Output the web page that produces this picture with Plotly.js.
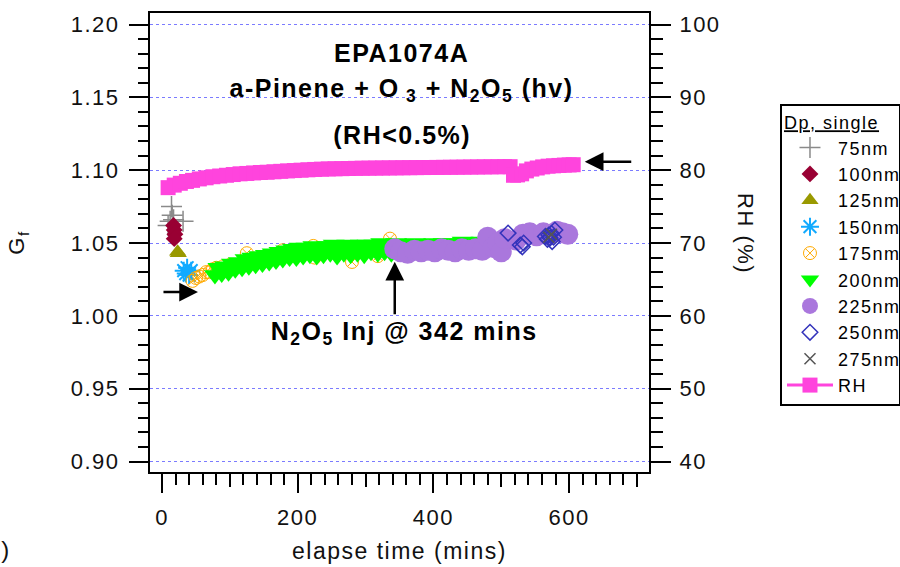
<!DOCTYPE html>
<html><head><meta charset="utf-8">
<script src="https://cdn.plot.ly/plotly-3.0.1.min.js"></script>
<style>
html,body{margin:0;padding:0;background:#fff}
#chart text{letter-spacing:1.5px}
</style>
</head><body><div id="chart" style="width:900px;height:567px"></div>
<script>
// ---- data ----
const seriesNames = ["75nm","100nm","125nm","150nm","175nm","200nm","225nm","250nm","275nm"];

const t75  = [9, 12, 14, 15, 31, 17];
const g75  = [1.062, 1.065, 1.075, 1.069, 1.065, 1.066];

const t100 = [17, 18, 19, 18];
const g100 = [1.062, 1.059, 1.056, 1.053];

const t125 = [24, 23];
const g125 = [1.043, 1.044];

const t150 = [32, 35, 37, 40, 43];
const g150 = [1.031, 1.029, 1.033, 1.028, 1.031];

const t175 = [45, 50, 55, 60, 65, 70, 75, 80, 90, 100, 125, 178, 223, 225, 280, 318, 336];
const g175 = [1.024, 1.026, 1.027, 1.028, 1.030, 1.030, 1.032, 1.033, 1.034, 1.035, 1.043, 1.045, 1.048, 1.040, 1.037, 1.041, 1.053];

const t200 = [78, 83, 88, 93, 98, 103, 108, 113, 118, 123, 128, 133, 138, 143, 148, 153, 158, 163, 168, 173, 178, 183, 188, 193, 198, 203, 208, 213, 218, 223, 228, 233, 238, 243, 248, 253, 258, 263, 268, 273, 278, 283, 288, 293, 298, 303, 308, 313, 318, 323, 328, 333, 338, 345, 352, 359, 366, 373, 380, 387, 394, 401, 408, 415, 422, 429, 436, 443, 450, 457, 464, 471, 478, 485, 492, 499, 505, 511];
const g200 = [1.028, 1.033, 1.029, 1.034, 1.030, 1.036, 1.032, 1.037, 1.033, 1.039, 1.034, 1.040, 1.035, 1.041, 1.036, 1.042, 1.037, 1.043, 1.038, 1.044, 1.039, 1.045, 1.040, 1.046, 1.040, 1.047, 1.041, 1.047, 1.042, 1.048, 1.041, 1.047, 1.042, 1.048, 1.043, 1.049, 1.041, 1.048, 1.043, 1.049, 1.042, 1.048, 1.043, 1.049, 1.042, 1.049, 1.044, 1.049, 1.043, 1.050, 1.044, 1.049, 1.043, 1.050, 1.044, 1.049, 1.045, 1.050, 1.044, 1.049, 1.045, 1.050, 1.044, 1.050, 1.045, 1.050, 1.046, 1.051, 1.045, 1.050, 1.046, 1.051, 1.046, 1.051, 1.047, 1.052, 1.048, 1.053];

const t225 = [343, 352, 362, 372, 382, 392, 402, 412, 422, 432, 442, 452, 462, 472, 480, 488, 495, 500, 505, 522, 532, 542, 552, 562, 572, 582, 590, 598];
const g225 = [1.046, 1.044, 1.043, 1.045, 1.044, 1.045, 1.044, 1.046, 1.045, 1.044, 1.046, 1.045, 1.046, 1.045, 1.054, 1.047, 1.050, 1.044, 1.053, 1.052, 1.056, 1.057, 1.055, 1.057, 1.056, 1.058, 1.057, 1.056];

const t250 = [510, 528, 531, 533, 565, 568, 570, 572, 574, 577, 579, 575];
const g250 = [1.0568, 1.0486, 1.0474, 1.0500, 1.0545, 1.0525, 1.0555, 1.0535, 1.0566, 1.0540, 1.0589, 1.0510];

const t275 = [570, 574];
const g275 = [1.054, 1.056];

const tRH  = [9, 18, 27, 36, 45, 55, 65, 75, 85, 95, 105, 115, 125, 135, 145, 155, 165, 175, 185, 195, 205, 215, 225, 235, 245, 255, 265, 275, 285, 295, 305, 315, 325, 335, 345, 355, 365, 375, 385, 395, 405, 415, 425, 435, 445, 455, 465, 475, 485, 495, 505, 513, 518, 524, 530, 537, 545, 553, 561, 569, 577, 585, 593, 600, 606];
const vRH  = [77.6, 77.95, 78.2, 78.45, 78.6, 78.8, 78.95, 79.1, 79.2, 79.3, 79.4, 79.5, 79.55, 79.62, 79.68, 79.72, 79.78, 79.84, 79.9, 79.95, 80.0, 80.05, 80.1, 80.14, 80.17, 80.19, 80.21, 80.23, 80.25, 80.27, 80.28, 80.29, 80.3, 80.31, 80.32, 80.33, 80.34, 80.35, 80.36, 80.37, 80.38, 80.39, 80.4, 80.41, 80.42, 80.43, 80.44, 80.45, 80.46, 80.47, 80.48, 80.48, 79.3, 79.35, 79.5, 79.9, 80.15, 80.3, 80.45, 80.55, 80.6, 80.65, 80.7, 80.72, 80.75];

const gfTicks = [0.90, 0.95, 1.00, 1.05, 1.10, 1.15, 1.20];
const timeTicks = [0, 200, 400, 600];
const rhTicks = [40, 50, 60, 70, 80, 90, 100];

// ---- traces ----
const F = "Liberation Sans, Arial, sans-serif";
function pts(name, x, y, marker, extra) {
  return Object.assign({type:"scatter", mode:"markers", name, x, y, marker, legendgroup:name}, extra||{});
}
const traces = [
  pts(seriesNames[0], t75, g75, {symbol:"cross-thin-open", size:15, line:{color:"#8a8a8a", width:1.5}, color:"#8a8a8a"}),
  pts(seriesNames[1], t100, g100, {symbol:"diamond", size:13, color:"#990033"}),
  pts(seriesNames[2], t125, g125, {symbol:"triangle-up", size:15, color:"#999900"}),
  pts(seriesNames[3], t150, g150, {symbol:"asterisk-open", size:15, line:{color:"#11aaff", width:2}, color:"#11aaff"}),
  pts(seriesNames[4], t175, g175, {symbol:"circle-x-open", size:13, line:{color:"#ffaa00", width:1}, color:"#ffaa00"}),
  pts(seriesNames[5], t200, g200, {symbol:"triangle-down", size:19, color:"#00ff00"}),
  pts(seriesNames[6], t225, g225, {symbol:"circle", size:21, color:"#aa77dd"}),
  pts(seriesNames[7], t250, g250, {symbol:"diamond-open", size:12, line:{color:"#3333bb", width:1.5}, color:"#3333bb"}),
  pts(seriesNames[8], t275, g275, {symbol:"x-thin-open", size:11, line:{color:"#555555", width:1.5}, color:"#555555"}, {xaxis:"x2"}),
  {type:"scatter", mode:"lines+markers", name:"RH", x:tRH, y:vRH, yaxis:"y2", legendgroup:"RH",
   line:{color:"#ff44dd", width:3}, marker:{symbol:"square", size:15, color:"#ff44dd"}}
];

const xRange = [-17.7, 717.7];
const minorX = [];
for (let v = 20; v <= 700; v += 20) if (v % 100 !== 0) minorX.push(v);

const layout = {
  width:900, height:567,
  margin:{l:150, r:251, t:13, b:95, autoexpand:false},
  paper_bgcolor:"#fff", plot_bgcolor:"#fff",
  font:{family:F, color:"#000", size:22},
  showlegend:true,
  legend:{x:1.2625, xanchor:"left", y:0.802, yanchor:"top",
    bgcolor:"#fff", bordercolor:"#000", borderwidth:2,
    font:{family:F, size:18, color:"#000"},
    title:{text:"<u>Dp, single</u>", font:{family:F, size:18, color:"#000"}},
    itemwidth:46, tracegroupgap:0, traceorder:"normal"},
  xaxis:{range:xRange, tickmode:"array", tickvals:timeTicks, ticks:"outside", ticklen:19, tickwidth:2, tickcolor:"#000",
    minor:{tickmode:"array", tickvals:minorX, ticks:"outside", ticklen:11, tickwidth:2, tickcolor:"#000", showgrid:false},
    showline:true, linecolor:"#000", linewidth:2, mirror:true, showgrid:false, zeroline:false,
    tickfont:{family:F, size:22, color:"#111"}, ticklabelstandoff:6,
    title:{text:"elapse time (mins)", font:{family:F, size:23, color:"#111"}, standoff:13}},
  xaxis2:{range:xRange, overlaying:"x", anchor:"y", side:"bottom", tickmode:"array", tickvals:[100,300,500,700],
    ticks:"outside", ticklen:14, tickwidth:2, tickcolor:"#000", showticklabels:false, showgrid:false, zeroline:false, showline:false},
  yaxis:{range:[0.8928, 1.2079], tickmode:"array", tickvals:gfTicks, tickformat:".2f", ticks:"outside", ticklen:19, tickwidth:2, tickcolor:"#000",
    minor:{dtick:0.01, tick0:0.9, ticks:"outside", ticklen:10, tickwidth:2, tickcolor:"#000", showgrid:false},
    showline:true, linecolor:"#000", linewidth:2, mirror:true, zeroline:false,
    showgrid:true, gridcolor:"#7b7bff", griddash:"dot", gridwidth:1,
    tickfont:{family:F, size:22, color:"#111"}, ticklabelstandoff:5,
    title:{text:"G<sub>f</sub>", font:{family:F, size:22, color:"#111"}, standoff:46}},
  yaxis2:{range:[38.56, 101.58], overlaying:"y", side:"right", anchor:"x", tickmode:"array", tickvals:rhTicks,
    ticks:"outside", ticklen:20, tickwidth:2, tickcolor:"#000",
    minor:{dtick:2, tick0:40, ticks:"outside", ticklen:12, tickwidth:2, tickcolor:"#000", showgrid:false},
    showline:true, linecolor:"#000", linewidth:2, showgrid:false, zeroline:false,
    tickfont:{family:F, size:22, color:"#111"}, ticklabelstandoff:4},
  annotations:[
    {xref:"paper", yref:"paper", x:0.505, y:0.9129, text:"<b>EPA1074A</b>", showarrow:false, font:{family:F, size:25, color:"#000"}, yanchor:"middle"},
    {xref:"paper", yref:"paper", x:0.505, y:0.832, text:"<b>a-Pinene + O<sub> 3</sub> + N<sub>2</sub>O<sub>5</sub> (hv)</b>", showarrow:false, font:{family:F, size:25, color:"#000"}, yanchor:"middle"},
    {xref:"paper", yref:"paper", x:0.505, y:0.734, text:"<b>(RH&lt;0.5%)</b>", showarrow:false, font:{family:F, size:25, color:"#000"}, yanchor:"middle"},
    {xref:"paper", yref:"paper", x:0.509, y:0.3028, text:"<b>N<sub>2</sub>O<sub>5</sub> Inj @ 342 mins</b>", showarrow:false, font:{family:F, size:25, color:"#000"}, yanchor:"middle"},
    {xref:"x", yref:"y", x:343, y:1.0371, ax:0, ay:54, axref:"pixel", ayref:"pixel", text:"", showarrow:true, arrowhead:2, arrowsize:1.5, arrowwidth:2.5, arrowcolor:"#000"},
    {xref:"x", yref:"y", x:53, y:1.0163, ax:-36, ay:0, text:"", showarrow:true, arrowhead:2, arrowsize:1.5, arrowwidth:2.5, arrowcolor:"#000"},
    {xref:"x", yref:"y", x:623, y:1.1058, ax:48, ay:0, text:"", showarrow:true, arrowhead:2, arrowsize:1.5, arrowwidth:2.5, arrowcolor:"#000"},
    {xref:"paper", yref:"paper", x:(760-150)/499, y:1-(233-13)/459, text:"RH (%)", textangle:90, showarrow:false, font:{family:F, size:22, color:"#111"}},
    {xref:"paper", yref:"paper", x:(12-150)/499, y:1-(565-13)/459, xanchor:"right", text:")", showarrow:false, font:{family:F, size:24, color:"#111"}}
  ]
};

Plotly.newPlot("chart", traces, layout, {displayModeBar:false, staticPlot:true});
</script></body></html>
